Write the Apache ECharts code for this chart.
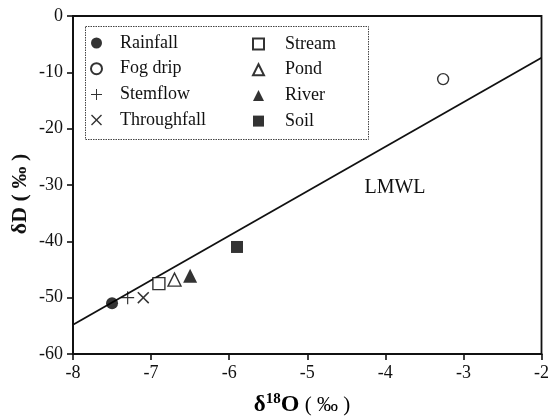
<!DOCTYPE html>
<html><head><meta charset="utf-8">
<script src="https://cdn.jsdelivr.net/npm/echarts@6/dist/echarts.min.js"></script>
<style>html,body{margin:0;padding:0;background:#fff}#c{width:552px;height:418px}</style>
</head><body><div id="c"></div>
<script>
// ---- data ----
const seriesNames = ['Rainfall','Fog drip','Stemflow','Throughfall','Stream','Pond','River','Soil'];
const rainfall    = [[-7.5, -51.0]];
const fogDrip     = [[-3.26, -11.2]];
const stemflow    = [[-7.3, -50.0]];
const throughfall = [[-7.1, -50.0]];
const stream      = [[-6.9, -47.5]];
const pond        = [[-6.7, -46.8]];
const river       = [[-6.5, -46.1]];
const soil        = [[-5.9, -41.0]];
const lmwlX = [-8, -2];
const lmwlY = [-54.8, -7.4];
const xTicks = [-8, -7, -6, -5, -4, -3, -2];
const yTicks = [-60, -50, -40, -30, -20, -10, 0];

const FONT = '"Liberation Serif", "Times New Roman", serif';
const PLUS = 'path://M-0.9,-10 H0.9 V-0.9 H10 V0.9 H0.9 V10 H-0.9 V0.9 H-10 V-0.9 H-0.9 Z';
const CROSS = 'path://M-7.07,-5.8 L-5.8,-7.07 L0,-1.27 L5.8,-7.07 L7.07,-5.8 L1.27,0 L7.07,5.8 L5.8,7.07 L0,1.27 L-5.8,7.07 L-7.07,5.8 L-1.27,0 Z';

const filled = {color:'#000'};
const open = {color:'#fff', borderColor:'#000', borderWidth:1.4};

function sc(name, data, symbol, size, style) {
  return {name, type:'scatter', data, symbol, symbolSize:size, itemStyle:style, z:5,
    emphasis:{disabled:true}};
}

const chart = echarts.init(document.getElementById('c'), null, {renderer:'canvas'});
const legendText = {fontFamily:FONT, fontSize:18, color:'#111', lineHeight:18};
chart.setOption({
  animation:false,
  backgroundColor:'#fff',
  grid:{left:73, right:7, top:16, bottom:64, show:true, borderColor:'#111', borderWidth:1.8, backgroundColor:'transparent'},
  xAxis:{type:'value', min:-8, max:-2, interval:1,
    axisLine:{show:true, onZero:false, lineStyle:{color:'#111', width:2}},
    axisTick:{show:true, length:6, lineStyle:{color:'#111', width:1.6}},
    axisLabel:{margin:10, fontFamily:FONT, fontSize:18, color:'#111',
      formatter:v => xTicks.includes(v) ? String(v) : ''},
    splitLine:{show:false}},
  yAxis:{type:'value', min:-60, max:0, interval:10,
    axisLine:{show:true, onZero:false, lineStyle:{color:'#111', width:2}},
    axisTick:{show:true, length:6, lineStyle:{color:'#111', width:1.6}},
    axisLabel:{margin:10, fontFamily:FONT, fontSize:18, color:'#111',
      formatter:v => yTicks.includes(v) ? String(v) : ''},
    splitLine:{show:false}},
  legend:[
    {orient:'vertical', padding:0, itemWidth:11, itemHeight:11, itemGap:7.7, selectedMode:false,
      left:90, top:34,
      data:[{name:'Rainfall'},{name:'Fog drip'},{name:'Stemflow', icon:PLUS},{name:'Throughfall', icon:CROSS}],
      textStyle:Object.assign({}, legendText, {padding:[0,0,0,13]})},
    {orient:'vertical', padding:0, itemWidth:11, itemHeight:11, itemGap:7.7, selectedMode:false,
      left:252, top:35,
      data:[{name:'Stream'},{name:'Pond'},{name:'River'},{name:'Soil'}],
      textStyle:Object.assign({}, legendText, {padding:[0,0,0,16]})}
  ],
  graphic:[
    {type:'rect', left:83, top:24, shape:{width:283, height:113},
      style:{fill:'none', stroke:'#444', lineWidth:1, lineDash:[1.5,1]}, z:1},
    {type:'text', x:395, y:188, style:{text:'LMWL', fontFamily:FONT, fontSize:20, fill:'#111',
      align:'center', verticalAlign:'middle'}},
    {type:'text', x:20, y:194, rotation:Math.PI/2,
      style:{text:'δD ( ‰ )', fontFamily:FONT, fontSize:22, fontWeight:'bold', fill:'#111',
        align:'center', verticalAlign:'middle'}},
    {type:'text', x:302, y:405,
      style:{text:'{a|δ}{s|18}{b|O}{c| ( ‰ )}', align:'center', verticalAlign:'middle',
        rich:{
          a:{fontFamily:FONT, fontSize:23, fontWeight:'bold', color:'#111'},
          s:{fontFamily:FONT, fontSize:15, fontWeight:'bold', color:'#111', padding:[0,0,11,0]},
          b:{fontFamily:FONT, fontSize:24, fontWeight:'bold', color:'#111'},
          c:{fontFamily:FONT, fontSize:21, color:'#111'}
        }}}
  ],
  series:[
    {name:'LMWL', type:'line', data:lmwlX.map((x,i)=>[x, lmwlY[i]]), symbol:'none',
      lineStyle:{color:'#111', width:1.8}, z:3, silent:true},
    sc('Rainfall', rainfall, 'circle', 12, filled),
    sc('Fog drip', fogDrip, 'circle', 11, open),
    sc('Stemflow', stemflow, PLUS, 13, filled),
    sc('Throughfall', throughfall, CROSS, 12, filled),
    sc('Stream', stream, 'rect', 12, open),
    sc('Pond', pond, 'triangle', 13, open),
    sc('River', river, 'triangle', 14, filled),
    sc('Soil', soil, 'rect', 12, filled)
  ]
});
</script></body></html>
